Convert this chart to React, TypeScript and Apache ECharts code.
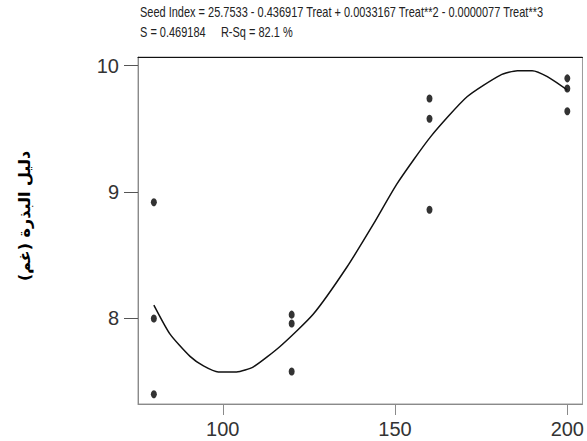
import React, { useEffect, useRef } from "react";
import * as echarts from "echarts";

const treat = [80, 80, 80, 120, 120, 120, 160, 160, 160, 200, 200, 200];
const seedIndex = [8.92, 8.0, 7.4, 8.03, 7.96, 7.58, 9.74, 9.58, 8.86, 9.9, 9.82, 9.64];

const fitTreat = [80, 84.7, 90.5, 94.4, 98.7, 104, 108.9, 116.7, 126.3, 136, 143.8, 150.6, 160.3, 170.9, 180.6, 185.5, 189.8, 194.2, 200];
const fitSeed = [8.106, 7.876, 7.7, 7.625, 7.577, 7.577, 7.617, 7.78, 8.035, 8.405, 8.75, 9.067, 9.437, 9.754, 9.926, 9.96, 9.96, 9.913, 9.807];

const xTicks = [100, 150, 200];
const yTicks = [8, 9, 10];

const titleLine1 = "Seed Index = 25.7533 - 0.436917 Treat + 0.0033167 Treat**2 - 0.0000077 Treat**3";
const titleLine2 = "S = 0.469184     R-Sq = 82.1 %";
const yTitle = "دليل البذرة (غم)";

const SANS = '"Liberation Sans", Arial, sans-serif';

function measure(text: string, font: string): number {
  const c = document.createElement("canvas");
  const ctx = c.getContext("2d");
  if (!ctx) return text.length * 7;
  ctx.font = font;
  return ctx.measureText(text).width;
}

export default function App() {
  const ref = useRef<HTMLDivElement>(null);
  useEffect(() => {
    if (!ref.current) return;
    const chart = echarts.init(ref.current, null, { renderer: "svg" });
    const titleFont = `14px ${SANS}`;
    const w1 = measure(titleLine1, titleFont);
    const sx = 404 / w1;
    chart.setOption({
      animation: false,
      backgroundColor: "#fff",
      grid: { left: 138, top: 57, right: 4, bottom: 37, show: true, borderColor: "#9a9a9a", borderWidth: 1 },
      xAxis: [
        {
          type: "value",
          min: 75.4,
          max: 204.4,
          splitLine: { show: false },
          axisLine: { show: true, lineStyle: { color: "#8a8a8a", width: 1 } },
          axisTick: { show: true, length: 11, lineStyle: { color: "#8a8a8a" }, customValues: xTicks },
          axisLabel: { margin: 15, fontSize: 20, fontFamily: SANS, color: "#333", customValues: xTicks },
        },
        {
          type: "value",
          position: "top",
          min: 75.4,
          max: 204.4,
          splitLine: { show: false },
          axisLine: { show: true, lineStyle: { color: "#111", width: 1 } },
          axisTick: { show: false },
          axisLabel: { show: false },
        },
      ],
      yAxis: {
        type: "value",
        min: 7.323,
        max: 10.069,
        splitLine: { show: false },
        axisLine: { show: true, lineStyle: { color: "#8a8a8a", width: 1 } },
        axisTick: { show: true, length: 14, lineStyle: { color: "#555" }, customValues: yTicks },
        axisLabel: { margin: 19, fontSize: 20, fontFamily: SANS, color: "#333", customValues: yTicks },
      },
      graphic: [
        {
          type: "text",
          x: 140,
          y: 6,
          scaleX: sx,
          style: { text: titleLine1, font: titleFont, fill: "#222", align: "left", verticalAlign: "top" },
        },
        {
          type: "text",
          x: 140,
          y: 26,
          scaleX: sx,
          style: { text: titleLine2, font: titleFont, fill: "#222", align: "left", verticalAlign: "top" },
        },
        {
          type: "text",
          x: 24,
          y: 216,
          rotation: Math.PI / 2,
          style: {
            text: yTitle,
            font: 'bold 16px "DejaVu Sans", sans-serif',
            fill: "#000",
            align: "center",
            verticalAlign: "middle",
          },
        },
      ],
      series: [
        {
          type: "line",
          data: fitTreat.map((t, i) => [t, fitSeed[i]]),
          showSymbol: false,
          smooth: 0.2,
          lineStyle: { color: "#111", width: 1.5 },
        },
        {
          type: "scatter",
          data: treat.map((t, i) => [t, seedIndex[i]]),
          symbol: "circle",
          symbolSize: [6, 8],
          itemStyle: { color: "#000" },
        },
      ],
    });
    return () => chart.dispose();
  }, []);
  return <div ref={ref} style={{ width: 587, height: 441, position: "absolute", left: 0, top: 0 }} />;
}
